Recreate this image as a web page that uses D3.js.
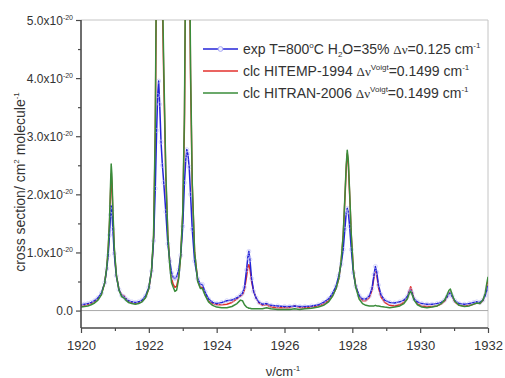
<!DOCTYPE html>
<html>
<head>
<meta charset="utf-8">
<script src="https://cdn.jsdelivr.net/npm/d3@7"></script>
<style>
    body { margin: 0; background: #fff; }
    svg { display: block; font-family: "Liberation Sans", Arial, sans-serif; }
</style>
</head>
<body>
<svg id="chart" width="505" height="378"></svg>
<script>
// wavenumber grid (cm-1), shared by the three spectra
const wavenumber = [
    1920.00, 1920.10, 1920.20, 1920.30, 1920.40, 1920.50, 1920.60, 1920.70, 1920.76, 1920.80,
    1920.84, 1920.87, 1920.89, 1920.91, 1920.94, 1920.98, 1921.04, 1921.12, 1921.20, 1921.26,
    1921.32, 1921.40, 1921.50, 1921.60, 1921.70, 1921.80, 1921.90, 1922.00, 1922.08, 1922.14,
    1922.19, 1922.23, 1922.26, 1922.29, 1922.32, 1922.36, 1922.40, 1922.44, 1922.50, 1922.56,
    1922.62, 1922.67, 1922.72, 1922.77, 1922.82, 1922.88, 1922.94, 1923.00, 1923.05, 1923.09,
    1923.12, 1923.15, 1923.19, 1923.23, 1923.28, 1923.35, 1923.44, 1923.52, 1923.58, 1923.66,
    1923.76, 1923.88, 1924.00, 1924.15, 1924.30, 1924.45, 1924.60, 1924.70, 1924.76, 1924.82,
    1924.88, 1924.92, 1924.95, 1924.98, 1925.03, 1925.09, 1925.16, 1925.25, 1925.35, 1925.47,
    1925.60, 1925.80, 1926.00, 1926.15, 1926.30, 1926.45, 1926.60, 1926.80, 1927.00, 1927.15,
    1927.30, 1927.42, 1927.52, 1927.60, 1927.67, 1927.73, 1927.78, 1927.82, 1927.85, 1927.88,
    1927.92, 1927.97, 1928.03, 1928.10, 1928.20, 1928.30, 1928.40, 1928.50, 1928.58, 1928.64,
    1928.68, 1928.72, 1928.77, 1928.84, 1928.95, 1929.10, 1929.25, 1929.40, 1929.52, 1929.62,
    1929.68, 1929.72, 1929.76, 1929.82, 1929.92, 1930.05, 1930.20, 1930.35, 1930.50, 1930.62,
    1930.72, 1930.80, 1930.85, 1930.89, 1930.94, 1931.02, 1931.15, 1931.30, 1931.45, 1931.58,
    1931.67, 1931.76, 1931.85, 1931.92, 1931.96, 1932.00
];

// cross sections in units of 1e-20 cm2/molecule
const expSigma = [
    0.10, 0.11, 0.12, 0.14, 0.17, 0.22, 0.30, 0.48, 0.72, 0.95,
    1.30, 1.65, 1.80, 1.72, 1.40, 0.98, 0.60, 0.36, 0.26, 0.24,
    0.20, 0.17, 0.15, 0.14, 0.15, 0.18, 0.25, 0.40, 0.68, 1.20,
    2.10, 3.10, 3.70, 3.95, 3.55, 2.90, 2.50, 2.20, 1.70, 1.15,
    0.85, 0.65, 0.57, 0.55, 0.58, 0.70, 0.95, 1.45, 2.20, 2.60,
    2.77, 2.70, 2.47, 2.00, 1.40, 0.85, 0.55, 0.45, 0.45, 0.32,
    0.20, 0.14, 0.12, 0.14, 0.17, 0.18, 0.22, 0.26, 0.30, 0.40,
    0.70, 0.92, 1.02, 0.88, 0.55, 0.33, 0.22, 0.14, 0.11, 0.12,
    0.09, 0.08, 0.07, 0.07, 0.08, 0.07, 0.07, 0.08, 0.10, 0.14,
    0.20, 0.30, 0.42, 0.60, 0.80, 1.05, 1.40, 1.68, 1.76, 1.70,
    1.45, 1.05, 0.65, 0.42, 0.26, 0.20, 0.20, 0.25, 0.38, 0.62,
    0.76, 0.66, 0.44, 0.28, 0.18, 0.14, 0.13, 0.15, 0.18, 0.24,
    0.32, 0.35, 0.30, 0.20, 0.15, 0.12, 0.11, 0.11, 0.12, 0.14,
    0.18, 0.24, 0.29, 0.30, 0.25, 0.17, 0.12, 0.11, 0.12, 0.14,
    0.15, 0.14, 0.18, 0.26, 0.34, 0.42
];

const hitempSigma = [
    0.08, 0.09, 0.10, 0.12, 0.15, 0.20, 0.28, 0.48, 0.74, 1.02,
    1.48, 2.00, 2.35, 2.20, 1.65, 1.05, 0.62, 0.36, 0.27, 0.26,
    0.21, 0.16, 0.13, 0.12, 0.13, 0.16, 0.22, 0.38, 0.68, 1.25,
    3.00, 6.20, 8.00, 9.00, 8.00, 6.60, 5.30, 4.00, 2.30, 1.30,
    0.80, 0.55, 0.45, 0.40, 0.42, 0.58, 0.95, 1.65, 3.20, 6.20,
    9.00, 9.50, 6.70, 4.00, 2.15, 1.00, 0.52, 0.40, 0.40, 0.28,
    0.17, 0.12, 0.10, 0.10, 0.11, 0.14, 0.20, 0.25, 0.27, 0.36,
    0.58, 0.75, 0.79, 0.72, 0.50, 0.33, 0.22, 0.13, 0.09, 0.10,
    0.06, 0.05, 0.05, 0.05, 0.08, 0.05, 0.05, 0.06, 0.08, 0.11,
    0.17, 0.26, 0.38, 0.55, 0.84, 1.28, 1.90, 2.45, 2.70, 2.55,
    2.00, 1.28, 0.70, 0.42, 0.24, 0.17, 0.17, 0.22, 0.35, 0.58,
    0.70, 0.62, 0.40, 0.24, 0.14, 0.09, 0.08, 0.10, 0.14, 0.22,
    0.35, 0.41, 0.34, 0.20, 0.12, 0.08, 0.07, 0.07, 0.08, 0.11,
    0.16, 0.24, 0.30, 0.32, 0.25, 0.15, 0.09, 0.08, 0.09, 0.11,
    0.13, 0.12, 0.17, 0.28, 0.40, 0.52
];

const hitranSigma = [
    0.06, 0.07, 0.08, 0.10, 0.13, 0.18, 0.27, 0.48, 0.75, 1.05,
    1.55, 2.15, 2.52, 2.35, 1.75, 1.10, 0.62, 0.35, 0.24, 0.22,
    0.18, 0.14, 0.12, 0.11, 0.12, 0.15, 0.22, 0.38, 0.70, 1.30,
    3.20, 6.50, 8.50, 9.50, 8.50, 7.00, 5.60, 4.20, 2.40, 1.30,
    0.75, 0.48, 0.40, 0.33, 0.35, 0.55, 0.95, 1.70, 3.40, 6.50,
    9.50, 10.0, 7.00, 4.20, 2.20, 1.00, 0.50, 0.38, 0.38, 0.26,
    0.15, 0.09, 0.06, 0.05, 0.05, 0.07, 0.12, 0.18, 0.17, 0.10,
    0.06, 0.05, 0.04, 0.04, 0.03, 0.03, 0.03, 0.03, 0.03, 0.05,
    0.03, 0.02, 0.02, 0.02, 0.03, 0.02, 0.03, 0.04, 0.06, 0.09,
    0.15, 0.25, 0.38, 0.55, 0.85, 1.30, 1.95, 2.50, 2.76, 2.60,
    2.05, 1.30, 0.70, 0.40, 0.20, 0.12, 0.09, 0.08, 0.08, 0.08,
    0.09, 0.08, 0.08, 0.07, 0.06, 0.05, 0.06, 0.08, 0.12, 0.20,
    0.30, 0.33, 0.28, 0.18, 0.10, 0.06, 0.05, 0.06, 0.08, 0.12,
    0.18, 0.28, 0.35, 0.37, 0.28, 0.16, 0.09, 0.07, 0.08, 0.11,
    0.13, 0.12, 0.18, 0.30, 0.45, 0.58
];

const xMajorTicks = [1920, 1922, 1924, 1926, 1928, 1930, 1932];
const xMinorTicks = [1921, 1923, 1925, 1927, 1929, 1931];
const yMajorTicks = [0, 1, 2, 3, 4, 5];
const yMinorTicks = [0.5, 1.5, 2.5, 3.5, 4.5];

// legend text pieces: [text, style]
const legendLabels = [
    [["exp T=800"], ["o", "sup"], ["C H"], ["2", "sub"], ["O=35% "], ["\u0394\u03bd", "sym"], ["=0.125 cm"], ["-1", "sup"]],
    [["clc HITEMP-1994 "], ["\u0394\u03bd", "sym"], ["Voigt", "sup"], ["=0.1499 cm"], ["-1", "sup"]],
    [["clc HITRAN-2006 "], ["\u0394\u03bd", "sym"], ["Voigt", "sup"], ["=0.1499 cm"], ["-1", "sup"]]
];

const series = [
    { key: "hitemp", values: hitempSigma, color: "#e3302c", legend: 1 },
    { key: "exp", values: expSigma, color: "#2424d8", legend: 0, markers: true },
    { key: "hitran", values: hitranSigma, color: "#3a8c3a", legend: 2 }
];

const plot = { left: 81, right: 488, top: 20, bottom: 328 };

const svg = d3.select("#chart");

const x = d3.scaleLinear().domain([1920, 1932]).range([plot.left, plot.right]);
const y = d3.scaleLinear().domain([-0.3, 5.0]).range([plot.bottom, plot.top]);

svg.append("defs").append("clipPath").attr("id", "plotClip")
    .append("rect")
    .attr("x", plot.left).attr("y", plot.top)
    .attr("width", plot.right - plot.left).attr("height", plot.bottom - plot.top);

// frame: top / right light gray
svg.append("line")
    .attr("x1", plot.left).attr("x2", plot.right)
    .attr("y1", plot.top).attr("y2", plot.top)
    .attr("stroke", "#c4c4c4").attr("stroke-width", 1);
svg.append("line")
    .attr("x1", plot.right).attr("x2", plot.right)
    .attr("y1", plot.top).attr("y2", plot.bottom)
    .attr("stroke", "#c4c4c4").attr("stroke-width", 1);

// zero line
svg.append("line")
    .attr("x1", plot.left).attr("x2", plot.right)
    .attr("y1", y(0)).attr("y2", y(0))
    .attr("stroke", "#a8a8a8").attr("stroke-width", 1);

// spectra
const line = d3.line()
    .x((d, i) => x(wavenumber[i]))
    .y(d => y(d));

const lines = svg.append("g").attr("clip-path", "url(#plotClip)");

series.forEach(s => {
    lines.append("path")
        .datum(s.values)
        .attr("fill", "none")
        .attr("stroke", s.color)
        .attr("stroke-width", 1.5)
        .attr("stroke-linejoin", "round")
        .attr("d", line);

    if (s.markers) {
        lines.selectAll(".marker-" + s.key)
            .data(s.values)
            .enter().append("circle")
            .attr("class", "marker-" + s.key)
            .attr("cx", (d, i) => x(wavenumber[i]))
            .attr("cy", d => y(d))
            .attr("r", 2)
            .attr("fill", "none")
            .attr("stroke", "#c4c4f6")
            .attr("stroke-opacity", 0.8)
            .attr("stroke-width", 0.8);
    }
});

// axes
const axisColor = "#4a4a4a";

const yAxis = svg.append("g")
    .attr("transform", `translate(${plot.left},0)`)
    .call(d3.axisLeft(y).tickValues(yMajorTicks).tickSize(5).tickFormat(""));
svg.append("g")
    .attr("transform", `translate(${plot.left},0)`)
    .call(d3.axisLeft(y).tickValues(yMinorTicks).tickSize(3).tickFormat(""))
    .select(".domain").remove();

const xAxis = svg.append("g")
    .attr("transform", `translate(0,${plot.bottom})`)
    .call(d3.axisBottom(x).tickValues(xMajorTicks).tickSize(5).tickFormat(d3.format("d")));
svg.append("g")
    .attr("transform", `translate(0,${plot.bottom})`)
    .call(d3.axisBottom(x).tickValues(xMinorTicks).tickSize(3).tickFormat(""))
    .select(".domain").remove();

svg.selectAll(".domain").remove();
svg.selectAll(".tick line").attr("stroke", axisColor).attr("stroke-width", 1.2);

svg.append("line")
    .attr("x1", plot.left).attr("x2", plot.left)
    .attr("y1", plot.top).attr("y2", plot.bottom)
    .attr("stroke", axisColor).attr("stroke-width", 1.6);
svg.append("line")
    .attr("x1", plot.left).attr("x2", plot.right)
    .attr("y1", plot.bottom).attr("y2", plot.bottom)
    .attr("stroke", axisColor).attr("stroke-width", 1.6);

xAxis.selectAll(".tick text")
    .attr("font-family", "Liberation Sans, Arial, sans-serif")
    .attr("font-size", 13)
    .attr("fill", "#333")
    .attr("dy", "1.1em");

// y tick labels with superscript exponent
yAxis.selectAll(".tick").each(function(d) {
    const t = d3.select(this).select("text")
        .text(null)
        .attr("x", -8)
        .attr("dy", "0.36em")
        .attr("text-anchor", "end")
        .attr("font-family", "Liberation Sans, Arial, sans-serif")
        .attr("font-size", 12)
        .attr("fill", "#333");
    if (d === 0) {
        t.text("0.0");
    } else {
        t.append("tspan").text(d.toFixed(1) + "x10");
        t.append("tspan").attr("font-size", 7).attr("dy", -5).text("-20");
    }
});

// axis titles
const yTitle = svg.append("text")
    .attr("transform", "translate(25,182) rotate(-90)")
    .attr("text-anchor", "middle")
    .attr("font-size", 14)
    .attr("fill", "#333");
yTitle.append("tspan").text("cross section/ cm");
yTitle.append("tspan").attr("font-size", 8).attr("dy", -6).text("2");
yTitle.append("tspan").attr("dy", 6).text(" molecule");
yTitle.append("tspan").attr("font-size", 8).attr("dy", -6).text("-1");

const xTitle = svg.append("text")
    .attr("x", 283).attr("y", 376)
    .attr("text-anchor", "middle")
    .attr("font-size", 13)
    .attr("fill", "#333");
xTitle.append("tspan").text("\u03bd/cm");
xTitle.append("tspan").attr("font-size", 8).attr("dy", -5).text("-1");

// legend
const legend = svg.append("g");
const legendRowY = d3.scaleLinear().domain([0, 2]).range([49, 93]);

series.forEach(s => {
    const ly = legendRowY(s.legend);
    legend.append("line")
        .attr("x1", 203).attr("x2", 238)
        .attr("y1", ly).attr("y2", ly)
        .attr("stroke", s.color).attr("stroke-width", 1.5);
    if (s.markers) {
        legend.append("circle")
            .attr("cx", 220.5).attr("cy", ly).attr("r", 2.4)
            .attr("fill", "#f0f0ff").attr("stroke", "#a9a9f5").attr("stroke-width", 1);
    }
    const text = legend.append("text")
        .attr("x", 243).attr("y", ly + 5)
        .attr("font-size", 14)
        .attr("fill", "#333");
    let shift = 0;
    legendLabels[s.legend].forEach(([str, style]) => {
        const ts = text.append("tspan").text(str);
        let target = 0;
        if (style === "sup") { ts.attr("font-size", 8); target = -6; }
        else if (style === "sub") { ts.attr("font-size", 8); target = 3; }
        else if (style === "sym") { ts.attr("font-family", "Liberation Serif, serif").attr("font-size", 13); }
        ts.attr("dy", target - shift);
        shift = target;
    });
});
</script>
</body>
</html>
